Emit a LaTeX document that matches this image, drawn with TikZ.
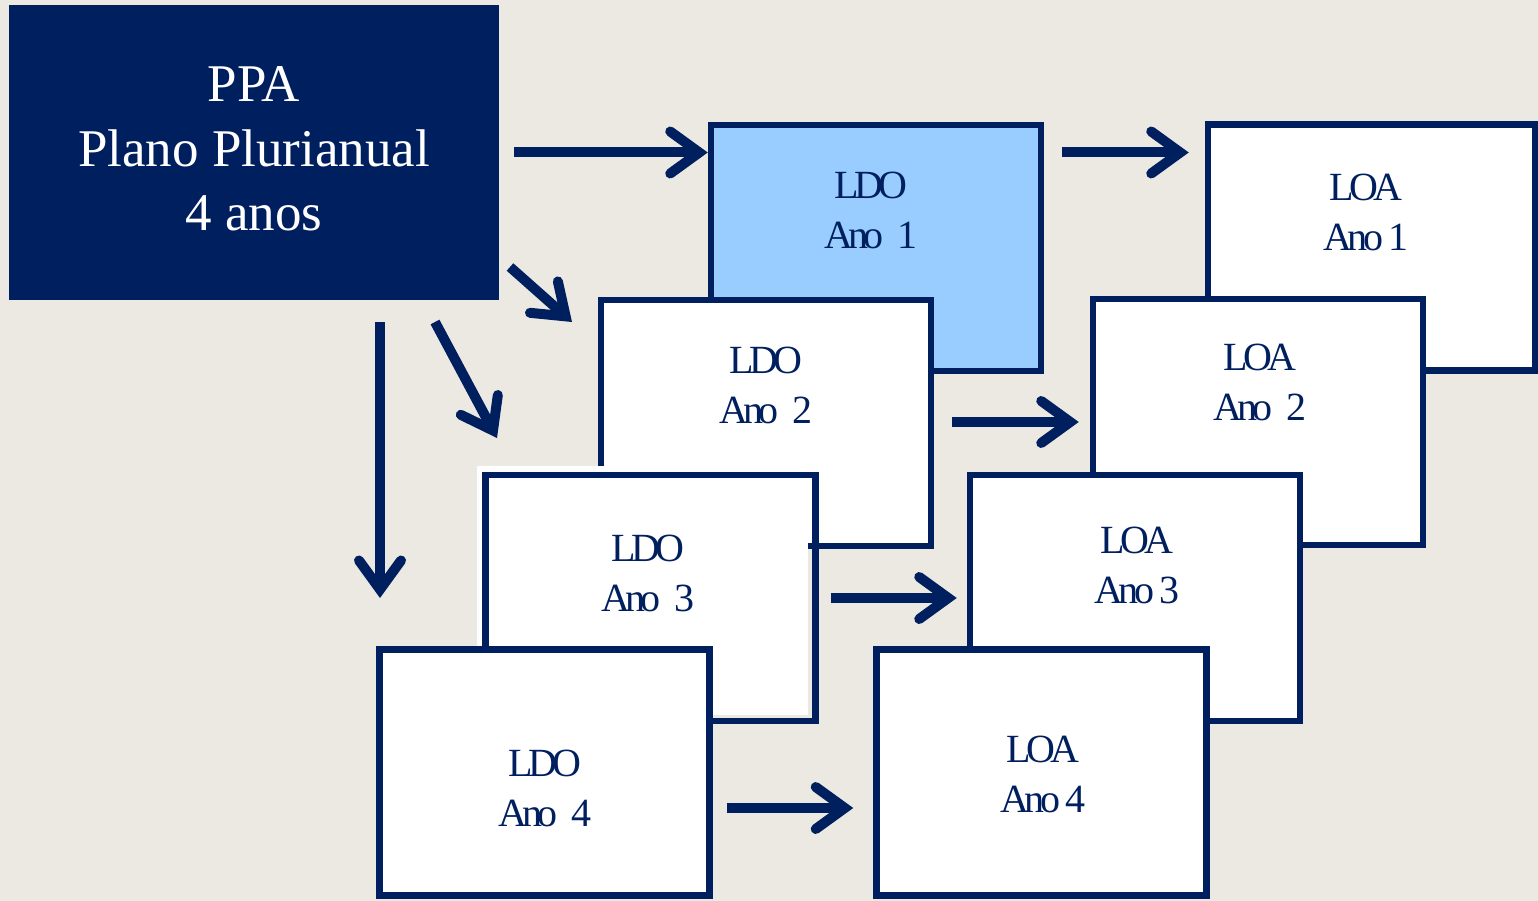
\documentclass[tikz,border=0pt]{standalone}
\usepackage{fontspec}
\setmainfont{Liberation Serif}
\newfontfamily\tightfont[LetterSpace=-12]{Liberation Serif}
\usetikzlibrary{arrows.meta}
\definecolor{navy}{HTML}{001F5F}
\definecolor{bgc}{HTML}{ECE9E3}
\definecolor{lblue}{HTML}{99CCFF}
\begin{document}
\begin{tikzpicture}[x=1pt,y=-1pt,
  box/.style={draw=navy, line width=6.5pt, fill=white, minimum width=330pt, minimum height=246pt, inner sep=0pt},
  lbl/.style={text=navy, font=\tightfont\fontsize{40}{50}\selectfont, align=center, inner sep=0pt},
  arr/.style={draw=navy, line width=10pt, -{Straight Barb[length=29pt,width=42pt,line cap=round,line join=miter]}}]
\fill[bgc] (0,0) rectangle (1538,901);
\useasboundingbox (0,0) rectangle (1538,901);
% PPA
\node[fill=navy, draw=navy, line width=1pt, minimum width=489pt, minimum height=294pt, inner sep=0pt] (ppa) at (254,152.5) {};
\node[text=white, font=\fontsize{53}{64.5}\selectfont, align=center, inner sep=0pt] (ppat) at (254,149) {PPA\\Plano Plurianual\\4 anos};
% row 1
\node[box, fill=lblue] (ldo1) at (876,248) {};
\node[lbl] (ldo1t) at (871,210) {LDO\\Ano~\hspace{9pt}1};
\node[box, minimum width=327pt] (loa1) at (1371.5,247.5) {};
\node[lbl] (loa1t) at (1366,212) {LOA\\Ano 1};
% row 2
\node[box] (ldo2) at (766,423) {};
\node[lbl] (ldo2t) at (766,385) {LDO\\Ano~\hspace{9pt}2};
\node[box] (loa2) at (1258,422) {};
\node[lbl] (loa2t) at (1260,382) {LOA\\Ano~\hspace{9pt}2};
% row 3
\fill[white] (477,466) rectangle (808,715);
\node[box, fill=none] (ldo3) at (650.5,598) {};
\node[lbl] (ldo3t) at (648,573) {LDO\\Ano~\hspace{9pt}3};
\node[box] (loa3) at (1135,598) {};
\node[lbl] (loa3t) at (1137,565) {LOA\\Ano 3};
% row 4
\node[box] (ldo4) at (544.5,772.5) {};
\node[lbl] (ldo4t) at (545,788) {LDO\\Ano~\hspace{9pt}4};
\node[box] (loa4) at (1041.5,772.5) {};
\node[lbl] (loa4t) at (1043,774) {LOA\\Ano 4};
% arrow ends
\coordinate (a3s) at (510,267);
\coordinate (a3e) at (572,322);
\coordinate (a4s) at (435,322);
\coordinate (a4e) at (497,438);
\coordinate (a5s) at (380,322);
\coordinate (a5e) at (380,598);
% arrows
\draw[arr, shorten <=15pt] (ppa.east) -- (ppa.east -| ldo1.west);
\draw[arr, shorten <=18pt, shorten >=16pt] (ppa.east -| ldo1.east) -- (ppa.east -| loa1.west);
\draw[arr] (a3s) -- (a3e);
\draw[arr] (a4s) -- (a4e);
\draw[arr] (a5s) -- (a5e);
\draw[arr, shorten <=18pt, shorten >=11pt] (loa2.west -| ldo2.east) -- (loa2.west);
\draw[arr, shorten <=12pt, shorten >=10pt] (ldo3.east) -- (loa3.west);
\draw[arr, shorten <=14pt, shorten >=20pt] ([yshift=-35.5pt]ldo4.east) -- ([yshift=-35.5pt]loa4.west);
\end{tikzpicture}
\end{document}
